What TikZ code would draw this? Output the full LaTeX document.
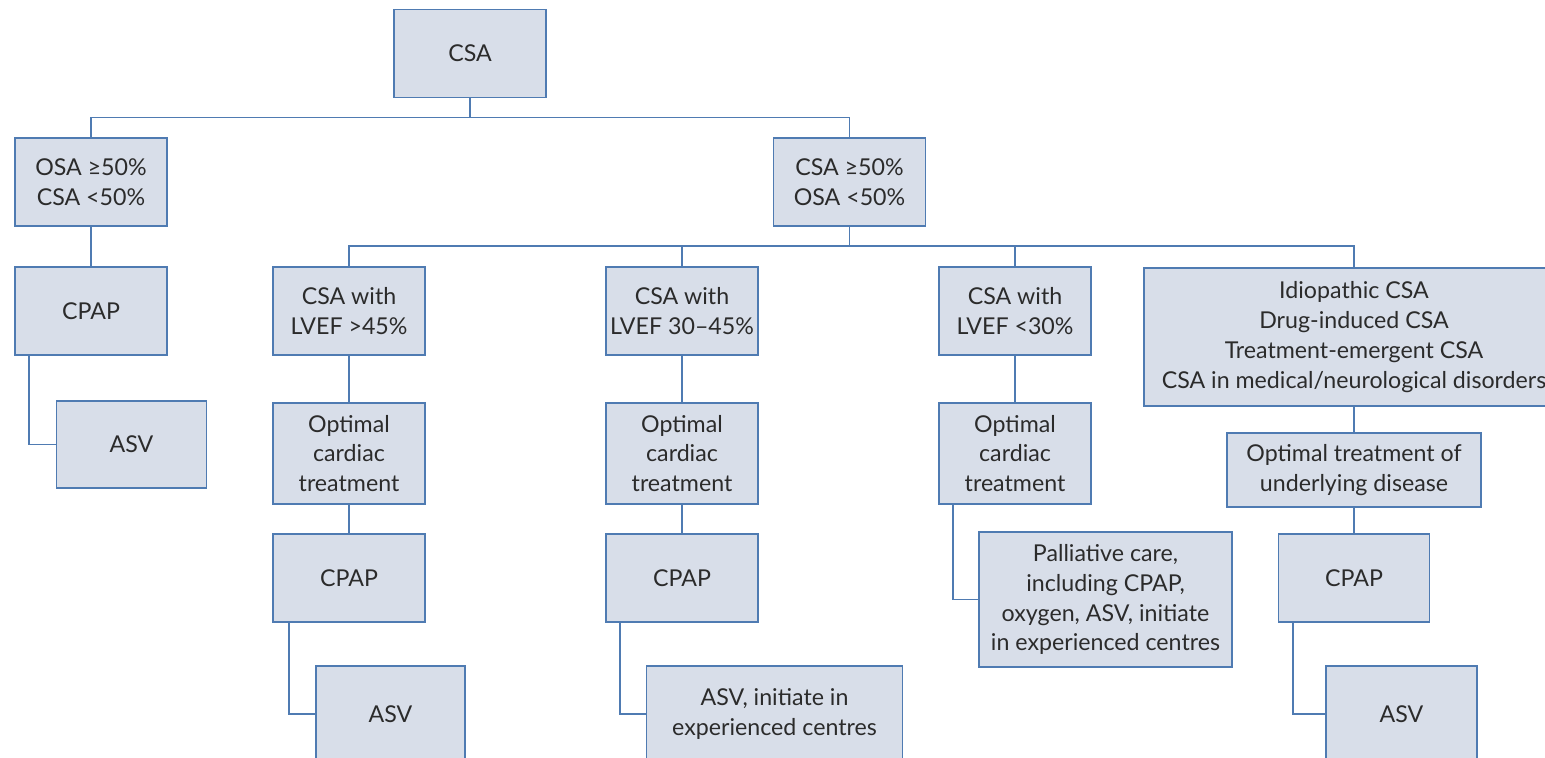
\documentclass[tikz,border=0pt]{standalone}
\usepackage{fontspec}
\setmainfont{Lato}
\usepackage{xcolor}
\usepackage{tikz}
\usetikzlibrary{positioning,calc}

\definecolor{boxfill}{HTML}{D8DEE9}
\definecolor{boxline}{HTML}{4F7BB2}
\definecolor{boxtext}{HTML}{2B2B2B}

\begin{document}
\begin{tikzpicture}[
  box/.style  = {rectangle, draw=boxline, fill=boxfill, line width=1.1pt,
                 minimum width=3.04cm, minimum height=1.76cm, inner sep=2pt,
                 text=boxtext, font=\fontsize{13.2}{17}\selectfont, align=center},
  tallbox/.style = {box, minimum height=2.02cm},
  link/.style = {draw=boxline, line width=1.1pt}
]
\useasboundingbox (0,0) rectangle (30.90,-15.14);

\node[box] (csa)   at (9.40, -1.07) {CSA};
\node[box] (osa)   at (1.82, -3.64) {OSA ≥50\%\\CSA <50\%};
\node[box] (csa50) at (16.99,-3.64) {CSA ≥50\%\\OSA <50\%};

\node[box] (cpapL) at (1.82, -6.22) {CPAP};
\node[box, minimum width=3.00cm, minimum height=1.74cm] (asvL) at (2.63, -8.89) {ASV};

\node[box] (lvefA) at (6.98, -6.22) {CSA with\\LVEF >45\%};
\node[box] (lvefB) at (13.64,-6.22) {CSA with\\LVEF 30–45\%};
\node[box] (lvefC) at (20.30,-6.22) {CSA with\\LVEF <30\%};
\node[box, minimum width=8.40cm, minimum height=2.76cm] (idio) at (27.08,-6.74)
  {Idiopathic CSA\\Drug-induced CSA\\Treatment-emergent CSA\\CSA in medical/neurological disorders};

\node[tallbox] (optA) at (6.98, -9.07) {Optimal\\cardiac\\treatment};
\node[tallbox] (optB) at (13.64,-9.07) {Optimal\\cardiac\\treatment};
\node[tallbox] (optC) at (20.30,-9.07) {Optimal\\cardiac\\treatment};
\node[box, minimum width=5.08cm, minimum height=1.48cm] (optD) at (27.08,-9.40)
  {Optimal treatment of\\underlying disease};

\node[box] (cpapA) at (6.98, -11.56) {CPAP};
\node[box] (cpapB) at (13.64,-11.56) {CPAP};
\node[box, minimum width=3.02cm] (cpapD) at (27.08,-11.56) {CPAP};
\node[box, minimum width=5.06cm, minimum height=2.70cm] (pall) at (22.11,-11.99)
  {Palliative care,\\including CPAP,\\oxygen, ASV, initiate\\in experienced centres};

\node[box, minimum width=2.98cm, minimum height=1.92cm] (asvA) at (7.81, -14.28) {ASV};
\node[box, minimum width=5.12cm, minimum height=1.92cm] (asvB) at (15.49,-14.28)
  {ASV, initiate in\\experienced centres};
\node[box, minimum width=3.02cm, minimum height=1.92cm] (asvD) at (28.03,-14.28) {ASV};

% first split
\draw[link] (csa.south) -- ++(0,-0.38) -| (osa.north);
\draw[link] (csa.south) -- ++(0,-0.38) -| (csa50.north);

% second split
\draw[link] (csa50.south) -- ++(0,-0.38) -| (lvefA.north);
\draw[link] (csa50.south) -- ++(0,-0.38) -| (lvefB.north);
\draw[link] (csa50.south) -- ++(0,-0.38) -| (lvefC.north);
\draw[link] (csa50.south) -- ++(0,-0.38) -| (idio.north);

\draw[link] (osa)   -- (cpapL);
\draw[link] (lvefA) -- (optA);
\draw[link] (lvefB) -- (optB);
\draw[link] (lvefC) -- (optC);
\draw[link] (idio)  -- (optD);
\draw[link] (optA)  -- (cpapA);
\draw[link] (optB)  -- (cpapB);
\draw[link] (optD)  -- (cpapD);

% side steps
\draw[link] ($(cpapL.south west)+(0.30,0)$) |- (asvL.west);
\draw[link] ($(cpapA.south west)+(0.34,0)$) |- (asvA.west);
\draw[link] ($(cpapB.south west)+(0.30,0)$) |- (asvB.west);
\draw[link] ($(optC.south west)+(0.30,0)$)  |- (pall.west);
\draw[link] ($(cpapD.south west)+(0.30,0)$) |- (asvD.west);
\end{tikzpicture}
\end{document}
